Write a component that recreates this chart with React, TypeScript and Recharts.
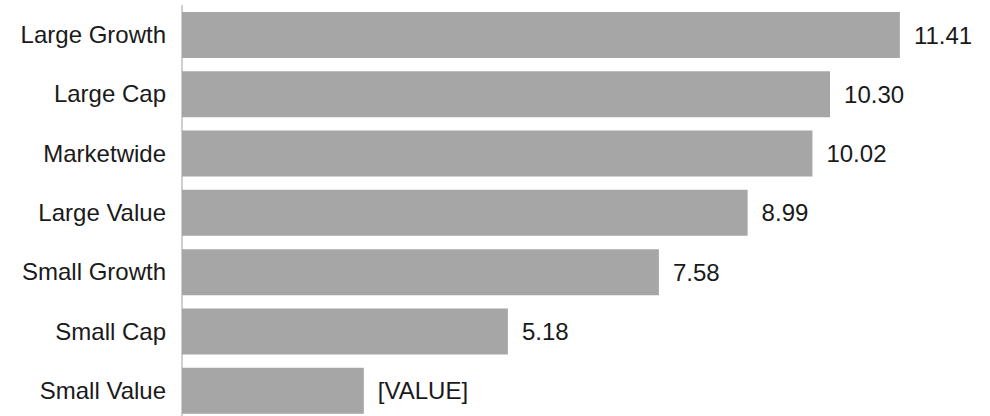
import { Bar, BarChart, LabelList, XAxis, YAxis } from 'recharts';

const categories = ['Large Growth', 'Large Cap', 'Marketwide', 'Large Value', 'Small Growth', 'Small Cap', 'Small Value'];
const values = [11.41, 10.3, 10.02, 8.99, 7.58, 5.18, 2.89];
const valueLabels = ['11.41', '10.30', '10.02', '8.99', '7.58', '5.18', '[VALUE]'];

const data = categories.map((category, i) => ({ category, value: values[i], label: valueLabels[i] }));

export default function App() {
  return (
    <div style={{ position: 'fixed', top: 0, left: 0, width: 990, height: 416, overflow: 'hidden', background: '#fff' }}>
      <BarChart
        width={990}
        height={420}
        data={data}
        layout="vertical"
        margin={{ top: 5, right: 53, left: 0, bottom: 0 }}
        barSize={46}
      >
        <XAxis type="number" domain={[0, 12]} hide />
        <YAxis
          type="category"
          dataKey="category"
          width={182}
          tickLine={false}
          tickSize={0}
          tickMargin={16}
          axisLine={{ stroke: '#a0a0a0', strokeWidth: 1 }}
          tick={{ fill: '#1a1a1a', fontSize: 24, fontFamily: 'Liberation Sans, Arial, sans-serif' }}
        />
        <Bar dataKey="value" fill="#a6a6a6" isAnimationActive={false}>
          <LabelList
            dataKey="label"
            position="right"
            offset={14}
            fill="#1a1a1a"
            fontSize={24}
            fontFamily="Liberation Sans, Arial, sans-serif"
          />
        </Bar>
      </BarChart>
    </div>
  );
}
